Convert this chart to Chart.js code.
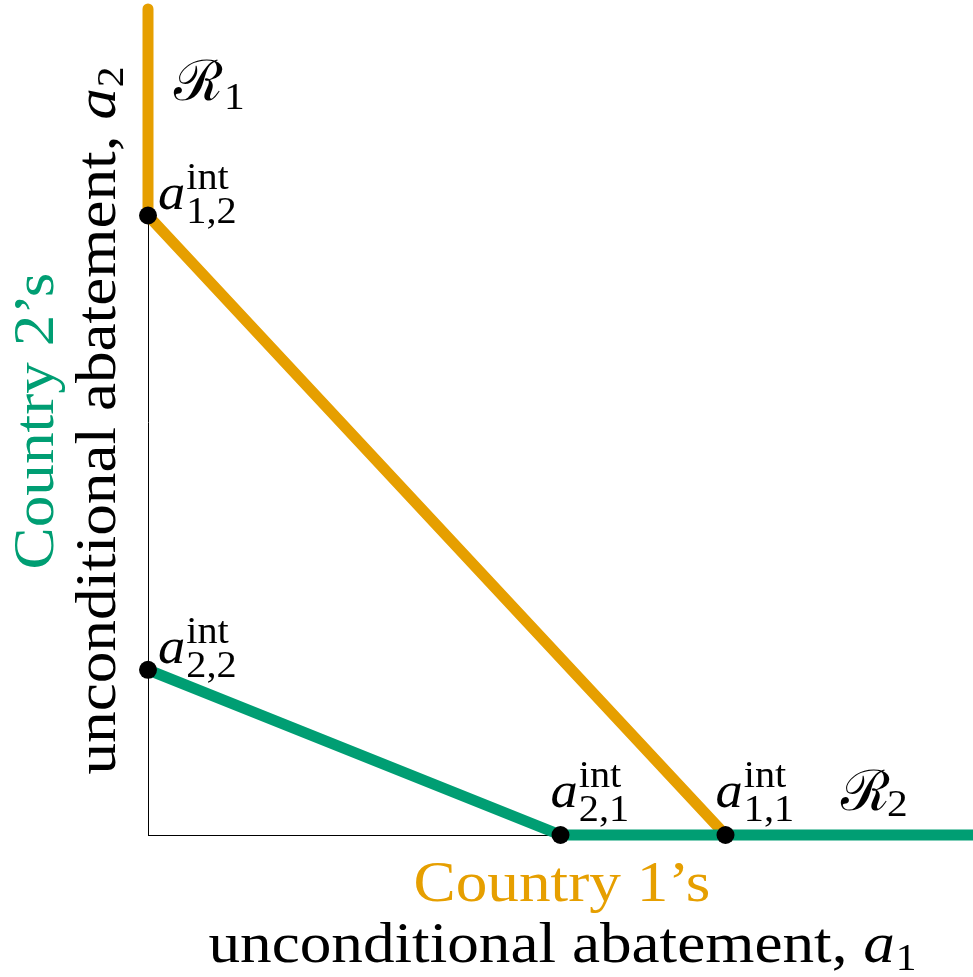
<!DOCTYPE html>
<html>
<head>
<meta charset="utf-8">
<script src="https://cdn.jsdelivr.net/npm/chart.js@4.4.0/dist/chart.umd.min.js"></script>
<style>
  html, body { margin: 0; padding: 0; background: #fff; overflow: hidden; }
  #wrap { width: 973px; height: 977px; }
</style>
</head>
<body>
<div id="wrap"><canvas id="c"></canvas></div>
<script>
// reaction curves (x = a1, y = a2)
const country1X = [0, 0, 7];
const country1Y = [10, 7.5, 0];
const country2X = [0, 5, 10];
const country2Y = [2, 0, 0];

// intersection points with the axes
const pointNames = ['1,2', '2,2', '2,1', '1,1'];
const pointX = [0, 0, 5, 7];
const pointY = [7.5, 2, 0, 0];

const orange = '#E69F00';
const green = '#009E73';
const serif = '"Liberation Serif", "DejaVu Serif", serif';
const STRETCH = 1.09; // CM letters are a bit wider

function toPts(xs, ys) {
    return xs.map((x, i) => ({ x: x, y: ys[i] }));
}

// text drawn slightly stretched, left aligned at x; returns width
function wideText(ctx, txt, x, y) {
    ctx.save();
    ctx.translate(x, y);
    ctx.scale(STRETCH, 1);
    ctx.textAlign = 'left';
    ctx.fillText(txt, 0, 0);
    ctx.restore();
    return ctx.measureText(txt).width * STRETCH;
}

// a^{int}_{sub} with the 'a' baseline at (x, y)
function drawA(ctx, sub, x, y) {
    ctx.fillStyle = '#000';
    ctx.textBaseline = 'alphabetic';
    ctx.font = 'italic 50px ' + serif;
    const w = wideText(ctx, 'a', x, y);
    ctx.font = '37px ' + serif;
    wideText(ctx, 'int', x + w + 1, y - 20);
    wideText(ctx, sub, x + w + 1, y + 14);
}

// two line axis title centred on cx
function axisTitle(ctx, first, firstColor, idx, cx, y1, y2) {
    ctx.font = '58px ' + serif;
    ctx.fillStyle = firstColor;
    const w1 = ctx.measureText(first).width * STRETCH;
    wideText(ctx, first, cx - w1 / 2, y1);
    ctx.fillStyle = '#000';
    const txt = 'unconditional abatement, ';
    const wt = ctx.measureText(txt).width * STRETCH;
    ctx.font = 'italic 58px ' + serif;
    const wa = ctx.measureText('a').width * STRETCH;
    ctx.font = '38px ' + serif;
    const ws = ctx.measureText(idx).width * STRETCH;
    let x = cx - (wt + wa + ws) / 2;
    ctx.font = '58px ' + serif;
    x += wideText(ctx, txt, x, y2);
    ctx.font = 'italic 58px ' + serif;
    x += wideText(ctx, 'a', x, y2);
    ctx.font = '38px ' + serif;
    wideText(ctx, idx, x + 1, y2 + 8);
}

const labels = {
    id: 'labels',
    afterDatasetsDraw(chart) {
        const ctx = chart.ctx;
        const xs = chart.scales.x, ys = chart.scales.y;
        ctx.save();
        // point labels
        pointNames.forEach((name, i) => {
            const px = xs.getPixelForValue(pointX[i]);
            const py = ys.getPixelForValue(pointY[i]);
            if (pointX[i] === 0) drawA(ctx, name, px + 10, py - 7);
            else drawA(ctx, name, px - 10, py - 28);
        });

        // region labels
        ctx.fillStyle = '#000';
        ctx.textAlign = 'left';
        ctx.font = '56px ' + serif;
        ctx.fillText('\u211B', 174, 100);
        ctx.font = '38px ' + serif;
        wideText(ctx, '1', 224, 109);
        ctx.font = '56px ' + serif;
        ctx.fillText('\u211B', 841, 810);
        ctx.font = '38px ' + serif;
        wideText(ctx, '2', 887, 816);

        // x axis title
        axisTitle(ctx, 'Country 1\u2019s', orange, '1', 562, 901, 962);

        // y axis title (rotated)
        ctx.save();
        ctx.rotate(-Math.PI / 2);
        axisTitle(ctx, 'Country 2\u2019s', green, '2', -421, 53, 115);
        ctx.restore();

        ctx.restore();
    }
};

new Chart(document.getElementById('c'), {
    type: 'scatter',
    data: {
        datasets: [
            {
                label: 'Country 1',
                data: toPts(country1X, country1Y),
                showLine: true,
                borderColor: orange,
                borderWidth: 11,
                borderCapStyle: 'round',
                borderJoinStyle: 'round',
                pointRadius: 0,
                clip: false,
                order: 3
            },
            {
                label: 'Country 2',
                data: toPts(country2X, country2Y),
                showLine: true,
                borderColor: green,
                borderWidth: 11,
                borderJoinStyle: 'round',
                pointRadius: 0,
                clip: false,
                order: 2
            },
            {
                label: 'Intersections',
                data: toPts(pointX, pointY),
                showLine: false,
                pointRadius: 9,
                pointBackgroundColor: '#000',
                pointBorderWidth: 0,
                clip: false,
                order: 1
            }
        ]
    },
    options: {
        responsive: true,
        maintainAspectRatio: false,
        animation: false,
        layout: {
            autoPadding: false,
            padding: { left: 148, right: 0, top: 9, bottom: 142 }
        },
        plugins: {
            legend: { display: false },
            tooltip: { enabled: false }
        },
        scales: {
            x: {
                type: 'linear',
                min: 0,
                max: 10,
                ticks: { display: false },
                grid: { display: false },
                border: { display: true, color: '#000', width: 1 },
                afterFit(scale) {
                    scale.height = 0;
                    scale.paddingLeft = 0;
                    scale.paddingRight = 0;
                }
            },
            y: {
                type: 'linear',
                min: 0,
                max: 10,
                ticks: { display: false },
                grid: { display: false },
                border: { display: true, color: '#000', width: 1 },
                afterFit(scale) {
                    scale.width = 0;
                    scale.paddingTop = 0;
                    scale.paddingBottom = 0;
                }
            }
        }
    },
    plugins: [labels]
});
</script>
</body>
</html>
